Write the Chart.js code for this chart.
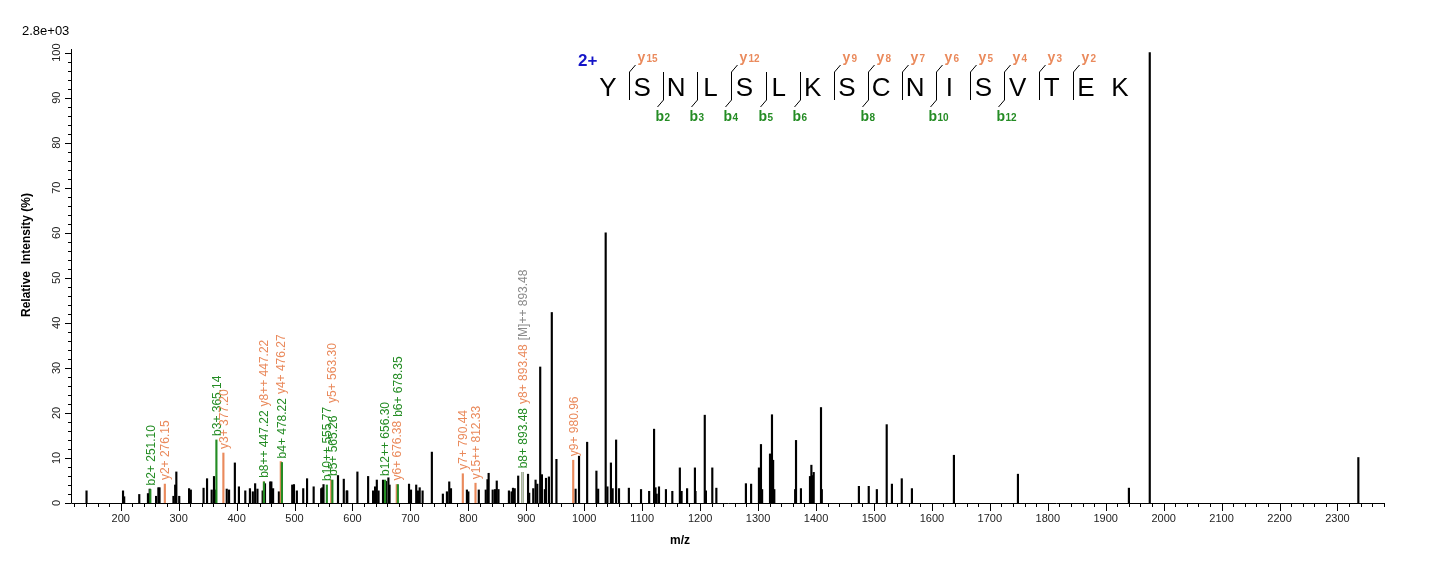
<!DOCTYPE html>
<html>
<head>
<meta charset="utf-8">
<title>MS/MS spectrum</title>
<script src="https://cdn.jsdelivr.net/npm/chart.js@4.4.1/dist/chart.umd.min.js"></script>
<style>
    html, body { margin: 0; padding: 0; background: #fff; }
    #wrap { width: 1436px; height: 562px; position: relative; }
</style>
</head>
<body>
<div id="wrap"><canvas id="spectrum" width="1436" height="562"></canvas></div>
<script>
// unannotated peaks (m/z, relative intensity %)
const peakMz = [
    141, 204, 206, 232, 247, 250, 261, 265, 267, 291, 294, 296, 301, 318, 321,
    343, 349, 357, 361, 364, 383, 387, 397, 404, 415, 423, 428, 432, 436, 445,
    449, 458, 460, 463, 473, 496, 499, 504, 515, 521.6, 533, 546, 548, 550,
    575, 585, 590, 591, 608.5, 627, 635.5, 639, 642, 645, 652.7, 658, 662, 664,
    697.6, 701, 710, 713, 716, 721, 737, 756, 763, 767, 770, 797.5, 800, 818,
    830, 833, 835, 842, 846, 849, 852, 870, 874.5, 877, 880, 886, 903, 905,
    912, 916, 919, 924, 927, 932, 934, 939, 944, 952, 985, 991, 1005, 1021,
    1024, 1037, 1040, 1046, 1049, 1055, 1060, 1077, 1098, 1112, 1120.5, 1123,
    1125, 1129, 1141, 1152, 1165, 1166, 1168, 1177.5, 1191, 1192, 1208, 1210,
    1221, 1228, 1279, 1288, 1301.5, 1305, 1307, 1320.6, 1324, 1326, 1328, 1364,
    1365.5, 1374, 1389.6, 1392, 1394, 1396, 1408.6, 1410, 1474, 1491, 1505,
    1522, 1531, 1548, 1565.5, 1638, 1748.5, 1940, 1976, 2336
];
const peakIntensity = [
    2.7, 2.7, 1.4, 1.9, 2.1, 3.1, 1.5, 3.4, 3.4, 1.5, 4.0, 6.9, 1.5, 3.2, 2.9,
    3.3, 5.4, 2.9, 5.9, 2.9, 3.1, 2.9, 8.9, 3.6, 2.7, 3.2, 2.5, 4.3, 3.1, 2.7,
    4.3, 4.7, 4.7, 3.2, 2.5, 4.0, 4.1, 2.7, 3.2, 5.4, 3.6, 3.2, 3.4, 4.1,
    6.1, 5.3, 2.7, 2.7, 6.9, 5.9, 2.7, 3.6, 5.1, 2.7, 5.1, 4.8, 5.6, 4.0,
    4.2, 2.9, 4.0, 2.7, 3.4, 2.7, 11.3, 2.0, 2.5, 4.7, 3.2, 2.9, 2.5, 2.9,
    2.9, 5.2, 6.6, 2.9, 3.0, 4.9, 3.0, 2.7, 2.5, 3.3, 3.2, 6.0, 6.4, 2.2,
    3.2, 5.1, 4.2, 30.2, 6.3, 3.0, 5.5, 5.8, 42.3, 9.7, 3.1, 10.4, 13.5, 7.1,
    3.1, 60.0, 3.6, 8.9, 3.2, 14.0, 3.2, 3.3, 3.0, 2.6, 16.4, 3.4,
    2.0, 3.6, 3.0, 2.6, 7.8, 2.4, 2.6, 3.2, 7.8, 2.6, 19.5, 2.7,
    7.8, 3.3, 4.3, 4.2, 7.8, 13.0, 3.0, 10.9, 19.6, 9.5, 3.0, 3.0,
    13.9, 3.2, 5.9, 8.4, 6.1, 6.8, 21.2, 3.0, 3.7, 3.7, 3.0,
    17.4, 4.2, 5.4, 3.2, 10.6, 6.4, 3.3, 100.0, 10.1
];

// annotated fragment peaks
const ionText = [
    'b2+ 251.10', 'y2+ 276.15', 'b3+ 365.14', 'y3+ 377.20', 'b8++ 447.22', 'y8++ 447.22',
    'b4+ 478.22', 'y4+ 476.27', 'b10++ 555.77', 'b5+ 565.26', 'y5+ 563.30', 'b12++ 656.30',
    'y6+ 676.38', 'b6+ 678.35', 'y7+ 790.44', 'y15++ 812.33', 'b8+ 893.48', 'y8+ 893.48',
    '[M]++ 893.48', 'y9+ 980.96'
];
const ionMz = [
    251.10, 276.15, 365.14, 377.20, 447.22, 447.22, 478.22, 476.27, 555.77, 565.26, 563.30,
    656.30, 676.38, 678.35, 790.44, 812.33, 893.48, 893.48, 893.48, 980.96
];
const ionIntensity = [
    3.0, 4.2, 14.0, 11.1, 4.7, 4.7, 9.0, 9.2, 4.0, 5.1, 5.1, 5.1,
    4.1, 4.1, 6.5, 4.4, 6.8, 6.8, 6.8, 9.5
];
const ionKind = [
    'b', 'y', 'b', 'y', 'b', 'y', 'b', 'y', 'b', 'b', 'y', 'b',
    'y', 'b', 'y', 'y', 'b', 'y', 'M', 'y'
];

const sequence = ['Y', 'S', 'N', 'L', 'S', 'L', 'K', 'S', 'C', 'N', 'I', 'S', 'V', 'T', 'E', 'K'];
const bBreaks = [2, 3, 4, 5, 6, 8, 10, 12];
const yBreaks = [15, 12, 9, 8, 7, 6, 5, 4, 3, 2];
const chargeLabel = '2+';
const scaleLabel = '2.8e+03';

const xTickLabels = [200, 300, 400, 500, 600, 700, 800, 900, 1000, 1100, 1200,
    1300, 1400, 1500, 1600, 1700, 1800, 1900, 2000, 2100, 2200, 2300];
const yTickLabels = [0, 10, 20, 30, 40, 50, 60, 70, 80, 90, 100];

const FONT = '"Liberation Sans", Arial, sans-serif';
const COLORS = { b: '#248c24', y: '#ea8a5c', M: '#8a8a8a', mLine: '#c4c4c4', peak: '#000000' };

function points(xs, ys, filter) {
    const out = [];
    xs.forEach((x, i) => { if (!filter || filter(i)) out.push({ x: x, y: ys[i] }); });
    return out;
}

// lower order is painted on top
function peakSet(data, color, order) {
    return {
        data: data,
        backgroundColor: color,
        borderWidth: 0,
        barThickness: 1.5,
        grouped: false,
        order: order
    };
}

const axisPlugin = {
    id: 'spectrumAxes',
    afterDraw(chart) {
        const ctx = chart.ctx;
        const xs = chart.scales.x;
        const ys = chart.scales.y;
        const area = chart.chartArea;
        const x0 = area.left, y0 = ys.getPixelForValue(0);

        ctx.save();
        ctx.strokeStyle = '#000';
        ctx.lineWidth = 1;
        ctx.beginPath();
        ctx.moveTo(x0 + 0.5, area.top);
        ctx.lineTo(x0 + 0.5, y0 + 0.5);
        ctx.lineTo(area.right, y0 + 0.5);

        // x ticks every 20, longer at labelled hundreds
        for (let v = Math.ceil(xs.min / 20) * 20; v <= xs.max; v += 20) {
            const px = Math.round(xs.getPixelForValue(v)) + 0.5;
            const len = v % 100 === 0 ? 8 : 4;
            ctx.moveTo(px, y0);
            ctx.lineTo(px, y0 + len);
        }
        // y ticks every 2, longer every 10
        for (let v = 0; v <= 100; v += 2) {
            const py = Math.round(ys.getPixelForValue(v)) + 0.5;
            const len = v % 10 === 0 ? 6 : 3;
            ctx.moveTo(x0, py);
            ctx.lineTo(x0 - len, py);
        }
        ctx.stroke();

        ctx.fillStyle = '#222';
        ctx.font = '11px ' + FONT;
        ctx.textAlign = 'center';
        ctx.textBaseline = 'middle';
        xTickLabels.forEach((v) => {
            ctx.fillText(String(v), xs.getPixelForValue(v), y0 + 16);
        });
        yTickLabels.forEach((v) => {
            ctx.save();
            ctx.translate(x0 - 14, ys.getPixelForValue(v));
            ctx.rotate(-Math.PI / 2);
            ctx.fillText(String(v), 0, 0);
            ctx.restore();
        });

        ctx.fillStyle = '#000';
        ctx.font = 'bold 12px ' + FONT;
        ctx.fillText('m/z', 680, 541);
        ctx.save();
        ctx.translate(27, 255);
        ctx.rotate(-Math.PI / 2);
        ctx.fillText('Relative  Intensity (%)', 0, 0);
        ctx.restore();

        ctx.font = '13px ' + FONT;
        ctx.textAlign = 'left';
        ctx.fillText(scaleLabel, 22, 31);

        drawIonLabels(ctx, xs, ys);
        drawSequence(ctx);
        ctx.restore();
    }
};

function drawIonLabels(ctx, xs, ys) {
    ctx.font = '12px ' + FONT;
    ctx.textAlign = 'left';
    ctx.textBaseline = 'middle';
    const placed = [];
    ionText.forEach((text, i) => {
        const x = xs.getPixelForValue(ionMz[i]) + 1;
        const w = ctx.measureText(text).width;
        let bottom = ys.getPixelForValue(ionIntensity[i]) - 4;
        let moved = true;
        while (moved) {
            moved = false;
            placed.forEach((p) => {
                if (Math.abs(p.x - x) < 5 && bottom > p.top - 3 && bottom - w < p.bottom + 3) {
                    bottom = p.top - 4;
                    moved = true;
                }
            });
        }
        placed.push({ x: x, top: bottom - w, bottom: bottom });
        ctx.fillStyle = COLORS[ionKind[i]];
        ctx.save();
        ctx.translate(x, bottom);
        ctx.rotate(-Math.PI / 2);
        ctx.fillText(text, 0, 0);
        ctx.restore();
    });
}

function drawSequence(ctx) {
    const startX = 608, step = 34.13, baseY = 96;
    const centre = (i) => startX + i * step;

    ctx.fillStyle = '#1414c8';
    ctx.font = 'bold 17px ' + FONT;
    ctx.textAlign = 'left';
    ctx.textBaseline = 'alphabetic';
    ctx.fillText(chargeLabel, 578, 66);

    ctx.fillStyle = '#000';
    ctx.font = '26px ' + FONT;
    ctx.textAlign = 'center';
    sequence.forEach((aa, i) => ctx.fillText(aa, centre(i), baseY));

    ctx.strokeStyle = '#000';
    ctx.lineWidth = 1;
    const breakX = (n) => Math.round(centre(n - 1) + 21) + 0.5;

    yBreaks.forEach((n) => {
        const bx = breakX(sequence.length - n);
        ctx.beginPath();
        ctx.moveTo(bx + 6, 65);
        ctx.lineTo(bx, 72);
        ctx.lineTo(bx, 100);
        ctx.stroke();
        ctx.fillStyle = COLORS.y;
        ctx.textAlign = 'left';
        ctx.font = 'bold 14px ' + FONT;
        ctx.fillText('y', bx + 8, 62);
        ctx.font = 'bold 10px ' + FONT;
        ctx.fillText(String(n), bx + 17, 62);
    });

    bBreaks.forEach((n) => {
        const bx = breakX(n);
        ctx.beginPath();
        ctx.moveTo(bx, 72);
        ctx.lineTo(bx, 100);
        ctx.lineTo(bx - 6, 107);
        ctx.stroke();
        ctx.fillStyle = COLORS.b;
        ctx.textAlign = 'left';
        ctx.font = 'bold 14px ' + FONT;
        ctx.fillText('b', bx - 8, 121);
        ctx.font = 'bold 10px ' + FONT;
        ctx.fillText(String(n), bx + 1, 121);
    });
}

new Chart(document.getElementById('spectrum'), {
    type: 'bar',
    data: {
        datasets: [
            peakSet(points(peakMz, peakIntensity), COLORS.peak, 4),
            peakSet(points(ionMz, ionIntensity, (i) => ionKind[i] === 'y'), COLORS.y, 3),
            peakSet(points(ionMz, ionIntensity, (i) => ionKind[i] === 'b'), COLORS.b, 2),
            peakSet(points(ionMz, ionIntensity, (i) => ionKind[i] === 'M'), COLORS.mLine, 1)
        ]
    },
    options: {
        responsive: false,
        animation: false,
        devicePixelRatio: 1,
        layout: { padding: { left: 71, right: 51, top: 49, bottom: 59 } },
        plugins: { legend: { display: false }, tooltip: { enabled: false } },
        scales: {
            x: { type: 'linear', min: 114.2, max: 2382, offset: false, display: false },
            y: { type: 'linear', min: 0, max: 100.8, display: false }
        }
    },
    plugins: [axisPlugin]
});
</script>
</body>
</html>
